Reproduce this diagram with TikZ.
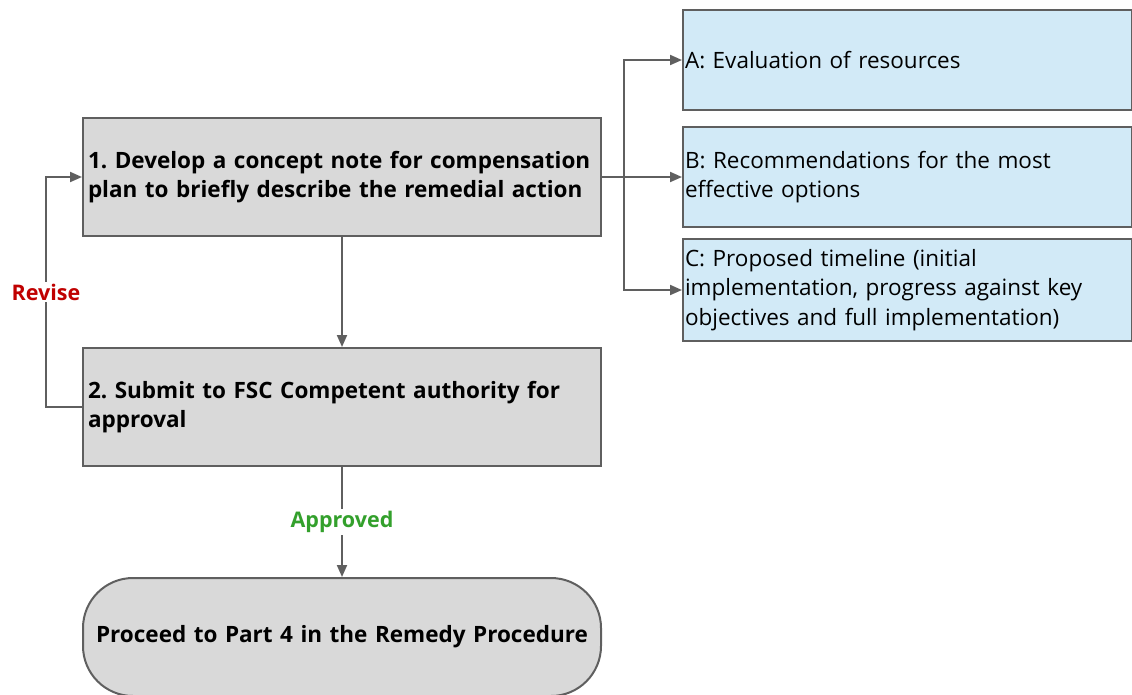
\documentclass[tikz,border=0pt]{standalone}
\usepackage{fontspec}
\setmainfont{Open Sans}
\usepackage{tikz}
\usetikzlibrary{shapes,arrows,arrows.meta,positioning}
\definecolor{StepGray}{HTML}{D9D9D9}
\definecolor{NoteBlue}{HTML}{D2EAF7}
\definecolor{EdgeGray}{HTML}{5F5F5F}
\definecolor{ReviseRed}{HTML}{C00000}
\definecolor{ApproveGreen}{HTML}{33A02C}
\tikzstyle{Step} = [draw=EdgeGray, line width=2pt, fill=StepGray, rectangle, minimum height=118pt, minimum width=518pt, text width=508pt, inner xsep=4pt, align=left, font=\fontsize{22.5}{28.5}\selectfont\bfseries]
\tikzstyle{Note} = [draw=EdgeGray, line width=2pt, fill=NoteBlue, rectangle, minimum height=100pt, minimum width=449pt, text width=445pt, inner xsep=2pt, align=left, font=\fontsize{22.5}{29.5}\selectfont]
\tikzstyle{Finish} = [Step, rounded corners=50pt, align=center]
\tikzstyle{Label} = [fill=white, inner sep=2pt, font=\fontsize{21.5}{24}\selectfont\bfseries]

\begin{document}
\frenchspacing
\begin{tikzpicture}[x=1pt, y=-1pt, >={Triangle[length=12pt,width=10pt]}, line width=2pt, draw=EdgeGray]
    \useasboundingbox (0,0) rectangle (1132,694);
    \node[Step]   (develop)   at (342,177)              {1. Develop a concept note for compensation\\plan to briefly describe the remedial action};
    \node[Step]   (submit)    [below=110pt of develop]  {2. Submit to FSC Competent authority for\\approval};
    \node[Finish] (proceed)   [below=110pt of submit]   {Proceed to Part 4 in the Remedy Procedure};
    \node[Note]   (recommend) [right=80pt of develop]   {B: Recommendations for the most\\effective options};
    \node[Note]   (evaluate)  [above=15pt of recommend] {A: Evaluation of resources};
    \node[Note]   (timeline)  [below=10pt of recommend, minimum height=102pt] {C: Proposed timeline (initial\\implementation, progress against key\\objectives and full implementation)};
    \coordinate[right=22pt of develop.east] (fork);
    \coordinate[left=36pt of submit.west]   (loop);
    \draw[->, EdgeGray] (develop)  to (submit);
    \draw[->, EdgeGray] (submit)   to node[Label, text=ApproveGreen] {Approved} (proceed);
    \draw[->, EdgeGray] (develop)  to (recommend);
    \draw[->, EdgeGray] (fork)     |- (evaluate);
    \draw[->, EdgeGray] (fork)     |- (timeline);
    \draw[->, EdgeGray] (submit.west) -- (loop) |- node[Label, text=ReviseRed, pos=0.25] {Revise} (develop.west);
  \end{tikzpicture}
\end{document}
